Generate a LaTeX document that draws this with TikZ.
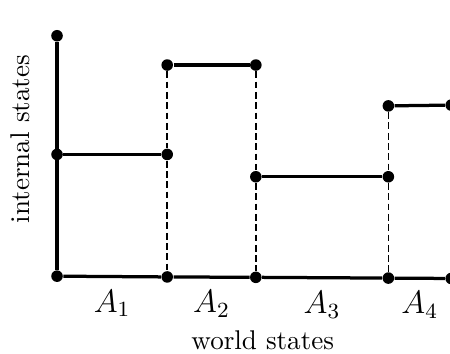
\documentclass[tikz,border=0pt]{standalone}
\usepackage{amsmath}
\usetikzlibrary{positioning}
\tikzset{
    dot/.style={circle, fill=black, inner sep=0pt, minimum size=1.5mm},
    axisline/.style={line width=1.2pt, black},
    levelline/.style={line width=1.2pt, black},
    guide/.style={line width=0.6pt, black, dash pattern=on 2.5pt off 1.3pt},
    setlabel/.style={font=\large, below=1pt},
}

\begin{document}
\begin{tikzpicture}
    \useasboundingbox (-0.74,-1.0) rectangle (5.10,3.584);

    % Axis points
    \node[dot] (top) at (0, 3.12) {};
    \node[dot] (O) at (0, 0) {};
    \node[dot] (x1) at (1.43, -0.01) {};
    \node[dot] (x2) at (2.58, -0.015) {};
    \node[dot] (x3) at (4.30, -0.025) {};
    \node[dot] (x4) at (5.115, -0.03) {};

    % Level end points
    \node[dot] (a1) at (0, 1.58) {};
    \node[dot] (b1) at (1.43, 1.58) {};
    \node[dot] (b2) at (1.43, 2.74) {};
    \node[dot] (c2) at (2.58, 2.74) {};
    \node[dot] (c3) at (2.58, 1.29) {};
    \node[dot] (d3) at (4.30, 1.29) {};
    \node[dot] (d4) at (4.30, 2.21) {};
    \node[dot] (e4) at (5.115, 2.22) {};

    % Axes
    \draw[axisline] (top) -- (O);
    \draw[axisline] (O) -- node[setlabel] (A1) {$A_1$} (x1)
        -- node[setlabel] (A2) {$A_2$} (x2)
        -- node[setlabel] (A3) {$A_3$} (x3)
        -- node[setlabel] (A4) {$A_4$} (x4);

    % Levels
    \draw[levelline] (a1) -- (b1);
    \draw[levelline] (b2) -- (c2);
    \draw[levelline] (c3) -- (d3);
    \draw[levelline] (d4) -- (e4);

    % Boundaries
    \draw[guide] (b2) -- (b1) -- (x1);
    \draw[guide] (c2) -- (c3) -- (x2);
    \draw[guide] (d4) -- (d3) -- (x3);
    \draw[guide] (e4) -- (x4);

    % Axis labels
    \node (xlabel) at (2.67, -0.83) {world states};
    \node[rotate=90] (ylabel) at (-0.48, 1.78) {internal states};
\end{tikzpicture}
\end{document}
